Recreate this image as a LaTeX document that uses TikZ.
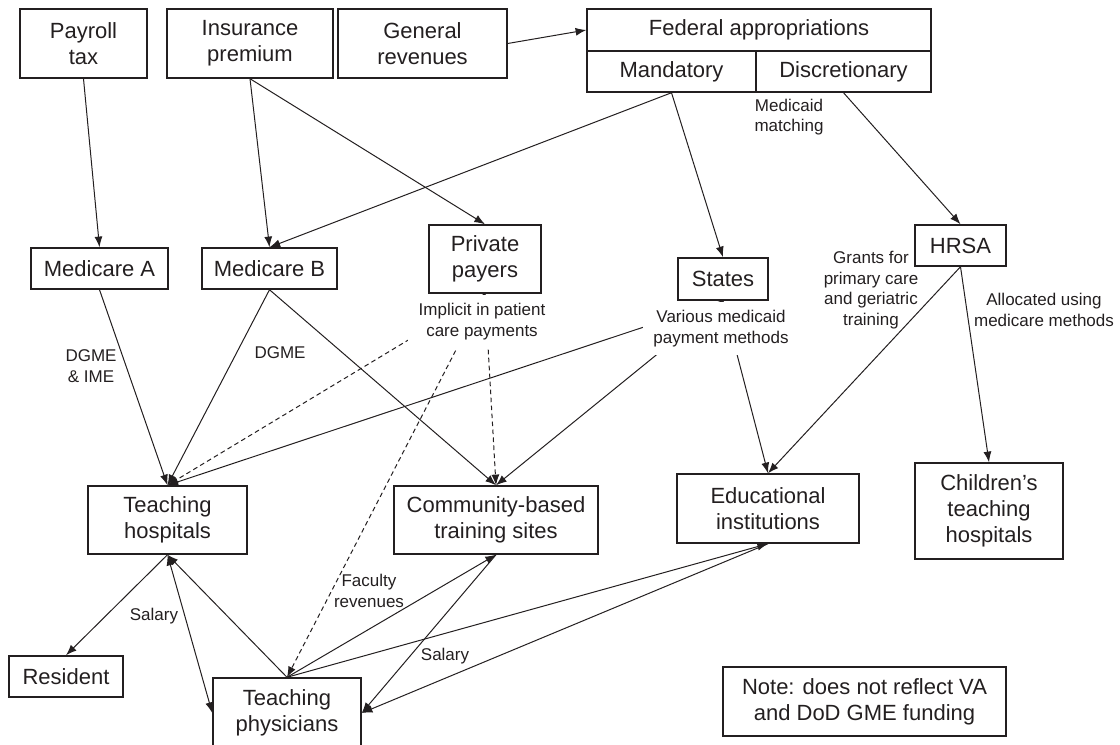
\documentclass[tikz,border=0pt]{standalone}
\usepackage{fontspec}
\setmainfont{Liberation Sans}
\usetikzlibrary{arrows.meta}
\definecolor{ink}{HTML}{231F20}
\newcommand{\bx}[6]{%
  \pgfmathsetmacro{\bw}{(#4-#2)*0.75}%
  \pgfmathsetmacro{\bh}{(#5-#3)*0.75}%
  \node[box, minimum width=\bw pt, minimum height=\bh pt] (#1) at ({(#2+#4)/2},{(#3+#5)/2}) {#6};}
\begin{document}
\begin{tikzpicture}[x=0.75pt,y=-0.75pt,
  box/.style={draw=ink, line width=1.1pt, inner sep=0pt, align=center,
    font=\fontsize{16.5}{19.5}\selectfont, text=ink},
  lbl/.style={align=center, font=\fontsize{12.75}{15.5}\selectfont, text=ink, inner sep=1.5pt},
  cover/.style={lbl, fill=white, inner xsep=8pt, inner ysep=6pt, anchor=north},
  arr/.style={draw=ink, line width=0.75pt, -{Latex[length=8pt,width=6pt]}},
  darr/.style={draw=ink, line width=0.75pt, {Latex[length=8pt,width=6pt]}-{Latex[length=8pt,width=6pt]}},
  dsh/.style={arr, dash pattern=on 3.5pt off 2.5pt}]
\useasboundingbox (0,0) rectangle (1120,745);
% boxes
\bx{payroll}{20}{9}{147}{78}{Payroll\\tax}
\bx{ins}{167}{9}{333}{78}{Insurance\\premium}
\bx{gen}{338}{9}{507}{78}{General\\revenues}
\bx{fed}{587}{9}{931}{51}{Federal appropriations}
\bx{mand}{587}{51}{756}{92}{Mandatory}
\bx{disc}{756}{51}{931}{92}{Discretionary}
\bx{meda}{31}{248}{168}{289}{Medicare A}
\bx{medb}{202}{248}{337}{289}{Medicare B}
\bx{priv}{429}{225}{541}{293}{Private\\payers}
\bx{states}{678}{258}{768}{300}{States}
\bx{hrsa}{915}{225}{1006}{266}{HRSA}
\bx{th}{88}{486}{247}{554}{Teaching\\hospitals}
\bx{comm}{394}{486}{598}{554}{Community-based\\training sites}
\bx{edu}{677}{474}{859}{543}{Educational\\institutions}
\bx{child}{915}{463}{1063}{559}{Children’s\\teaching\\hospitals}
\bx{res}{9}{656}{123}{697}{Resident}
\bx{tp}{213}{678}{361}{748}{Teaching\\physicians}
\bx{note}{723}{667}{1006}{736}{Note: does not reflect VA\\and DoD GME funding}
% connectors
\draw[arr] (payroll.south) -- (meda.north);
\draw[arr] (ins.south) -- (medb.north);
\draw[arr] (ins.south) -- (priv.north);
\draw[arr] (gen.east) -- (fed.west);
\draw[arr] (mand.south) -- (medb.north);
\draw[arr] (mand.south) -- (states.north);
\draw[arr] (disc.south) -- (hrsa.north);
\draw[arr] (meda.south) -- (th.north);
\draw[arr] (medb.south) -- (th.north);
\draw[arr] (medb.south) -- (comm.north);
\draw[dsh] (priv.south) -- (th.north);
\draw[dsh] (priv.south) -- (comm.north);
\draw[dsh] (priv.south) -- (tp.north);
\draw[arr] (states.south) -- (th.north);
\draw[arr] (states.south) -- (comm.north);
\draw[arr] (states.south) -- (edu.north);
\draw[arr] (hrsa.south) -- (edu.north);
\draw[arr] (hrsa.south) -- (child.north);
\draw[arr] (th.south) -- (res.north);
\draw[darr] (th.south) -- (tp.west);
\draw[arr] (tp.north) -- (th.south);
\draw[arr] (tp.north) -- (comm.south);
\draw[arr] (comm.south) -- (tp.east);
\draw[arr] (tp.north) -- (edu.south);
\draw[arr] (edu.south) -- (tp.east);
% labels
\node[lbl] (lmm) at (789,117) {Medicaid\\matching};
\node[cover] (limp) at (482,295) {Implicit in patient\\care payments};
\node[cover] (lvar) at (721,302) {Various medicaid\\payment methods};
\node[lbl] (ldi) at (91,366) {DGME\\\& IME};
\node[lbl] (ld) at (280,353) {DGME};
\node[lbl] (lgr) at (871,290) {Grants for\\primary care\\and geriatric\\training};
\node[lbl] (lal) at (1044,310) {Allocated using\\medicare methods};
\node[lbl] (ls1) at (154,616) {Salary};
\node[lbl] (lfr) at (369,591) {Faculty\\revenues};
\node[lbl] (ls2) at (445,656) {Salary};
\end{tikzpicture}
\end{document}
